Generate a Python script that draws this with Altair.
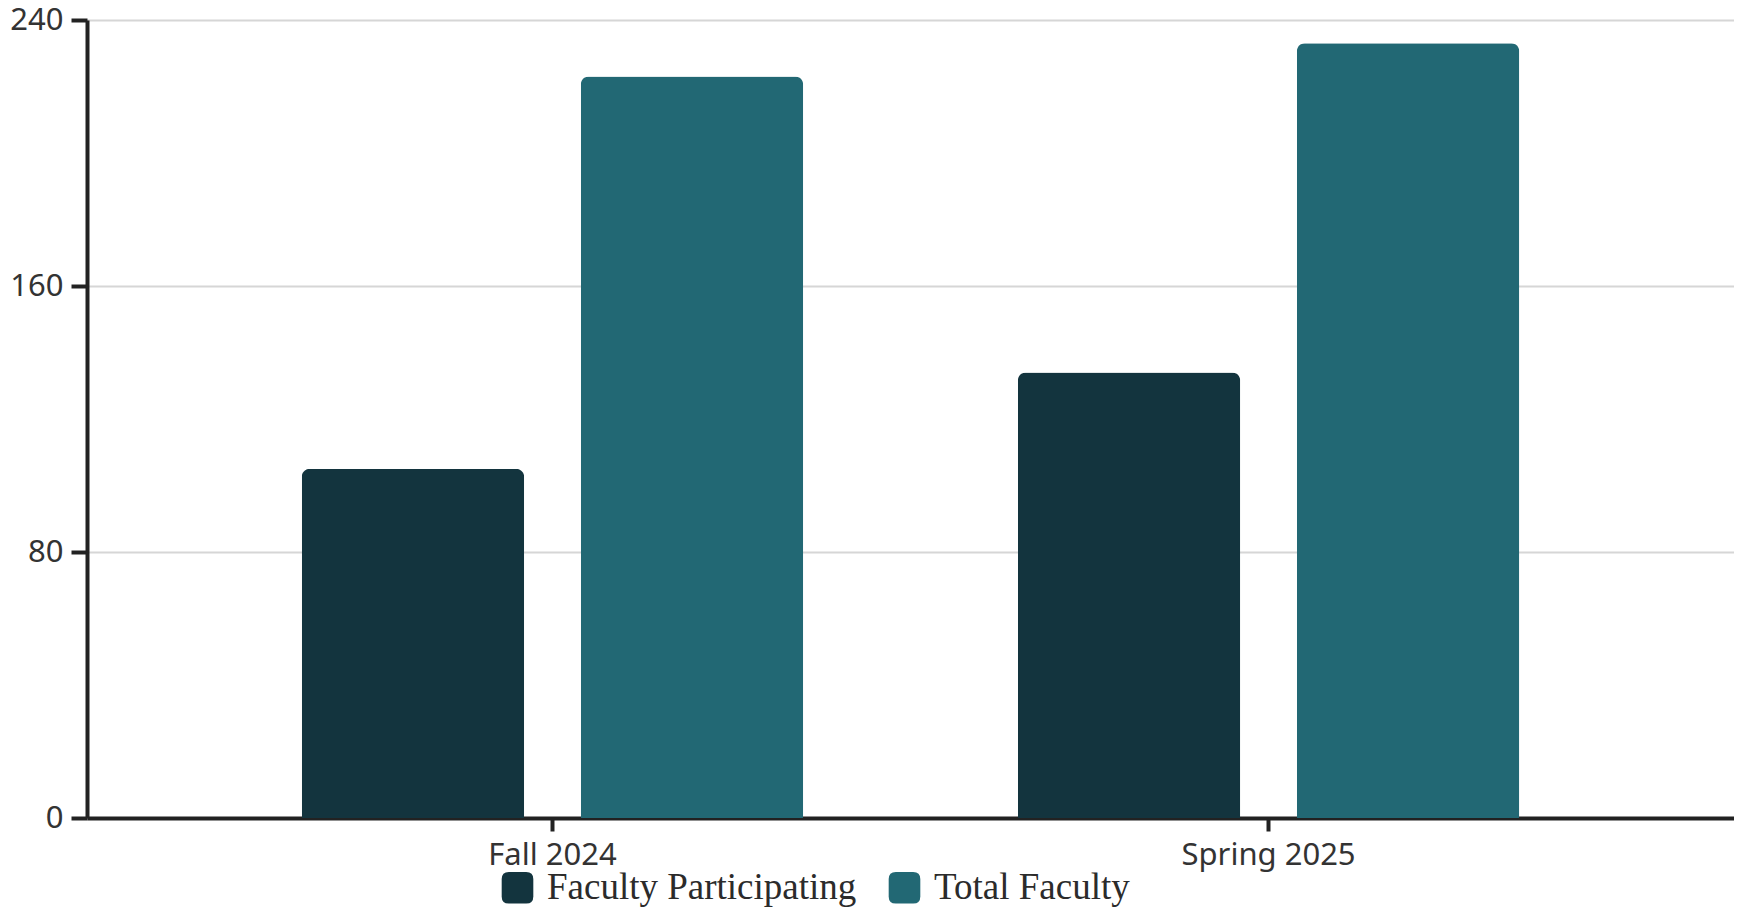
import altair as alt
import pandas as pd

terms = ["Fall 2024", "Spring 2025"]
series = ["Faculty Participating", "Total Faculty"]
participating = [105, 134]
total = [223, 233]
colors = ["#13343E", "#226874"]
y_ticks = [0, 80, 160, 240]

rows = []
for i, t in enumerate(terms):
    rows.append({"term": t, "series": series[0], "value": participating[i]})
    rows.append({"term": t, "series": series[1], "value": total[i]})
df = pd.DataFrame(rows)

rounded_square = ("M -0.55 -1 L 0.55 -1 Q 1 -1 1 -0.55 L 1 0.55 Q 1 1 0.55 1 "
                  "L -0.55 1 Q -1 1 -1 0.55 L -1 -0.55 Q -1 -1 -0.55 -1 Z")

chart = alt.Chart(df).mark_bar(
    cornerRadiusTopLeft=8, cornerRadiusTopRight=8
).encode(
    x=alt.X("term:N", sort=terms, title=None,
            scale=alt.Scale(paddingInner=0.2, paddingOuter=0.25),
            axis=alt.Axis(labelAngle=0, labelFont="Noto Sans", labelFontSize=31,
                          labelColor="#333333", domainColor="#222222", domainWidth=4,
                          tickColor="#222222", tickWidth=4, tickSize=13,
                          labelPadding=9, grid=False)),
    xOffset=alt.XOffset("series:N", sort=series,
                        scale=alt.Scale(paddingInner=0.203, paddingOuter=0.128)),
    y=alt.Y("value:Q", title=None,
            scale=alt.Scale(domain=[0, 240], nice=False),
            axis=alt.Axis(values=y_ticks, labelFont="Noto Sans", labelFontSize=31,
                          labelColor="#333333", domainColor="#222222", domainWidth=4,
                          tickColor="#222222", tickWidth=4, tickSize=16,
                          labelPadding=8, grid=True, gridColor="#d6d6d6", gridWidth=2)),
    color=alt.Color("series:N", sort=series,
                    scale=alt.Scale(domain=series, range=colors),
                    legend=alt.Legend(title=None, orient="none", direction="horizontal",
                                      legendX=412, legendY=849,
                                      symbolType=rounded_square, symbolSize=1000,
                                      symbolStrokeWidth=0, symbolOpacity=1,
                                      labelFont="Liberation Serif", labelFontSize=37,
                                      labelColor="#2b2b2b", labelOffset=11,
                                      columnPadding=29, labelLimit=500)),
).properties(
    width=1647, height=798,
    autosize=alt.AutoSizeParams(type="none"),
    padding={"left": 79, "top": 12, "right": 0, "bottom": 89},
).configure_view(stroke=None).configure(background="white")

chart.save("out.html", embed_options={"renderer": "svg", "actions": False})
